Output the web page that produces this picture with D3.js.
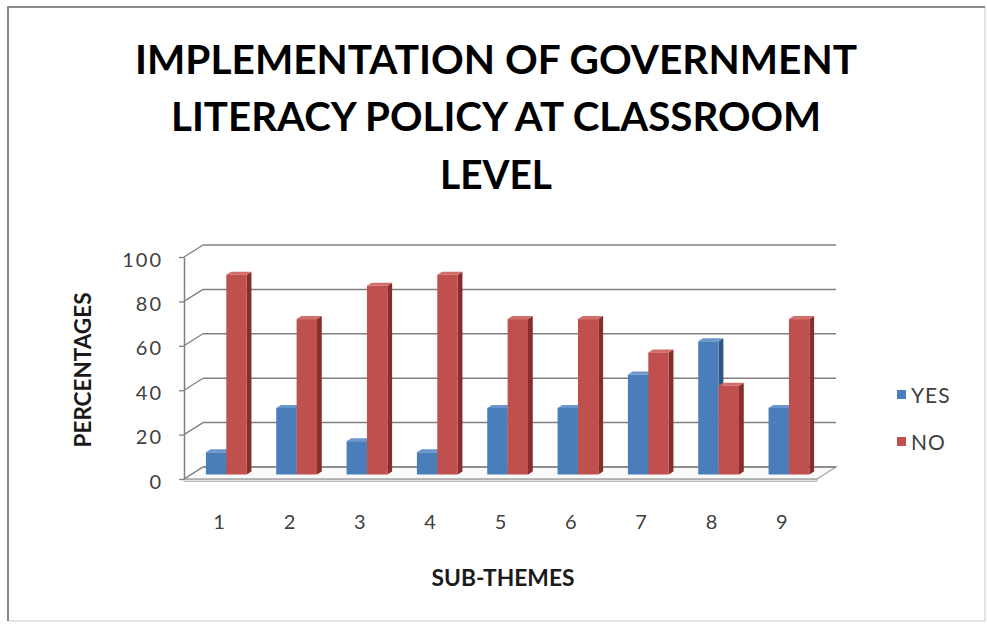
<!DOCTYPE html>
<html><head><meta charset="utf-8">
<script src="https://cdn.jsdelivr.net/npm/d3@7"></script>
<style>html,body{margin:0;padding:0;background:#fff;} svg{display:block;}</style>
</head><body><svg id="c" width="987" height="624"></svg>
<script>
const categories = ["1","2","3","4","5","6","7","8","9"];
const seriesNames = ["YES","NO"];
const yesValues = [10,30,15,10,30,30,45,60,30];
const noValues  = [90,70,85,90,70,70,55,40,70];
const yTicks = [0,20,40,60,80,100];
const titleLines = ["IMPLEMENTATION OF GOVERNMENT","LITERACY POLICY AT CLASSROOM","LEVEL"];
const xTitle = "SUB-THEMES";
const yTitle = "PERCENTAGES";

const colors = {
  YES: {front:"#4a7ebb", side:"#2f5683", top:"#6b97cf"},
  NO:  {front:"#c0504d", side:"#862e2c", top:"#d36d6a"}
};

const svg = d3.select("#c");

// frame
svg.append("rect").attr("x",8).attr("y",7).attr("width",977).attr("height",614)
  .attr("fill","#fff").attr("stroke","#c8c8c8").attr("stroke-width",1);
svg.append("path").attr("d","M8,621 L8,7 L985,7").attr("fill","none")
  .attr("stroke","#8a8a8a").attr("stroke-width",2);

const X0 = 184, X1 = 817, DX = 19, DY = -12;
const x = d3.scaleBand().domain(categories).range([X0, X1]).paddingInner(0.42).paddingOuter(0.21);
const xs = d3.scaleBand().domain(seriesNames).range([0, x.bandwidth()]);
const y = d3.scaleLinear().domain([0,100]).range([479,257]);
const P = (px, v, z) => [px + DX*z, y(v) + DY*z];

// floor
const floor = [P(X0,0,0),P(X1,0,0),P(X1,0,1),P(X0,0,1)];
svg.append("rect").attr("x",X0).attr("y",y(0)).attr("width",X1-X0).attr("height",2.5)
  .attr("fill","#e4e4e4").attr("stroke","#b0b0b0").attr("stroke-width",0.8);
svg.append("polygon").attr("points",floor.map(p=>p.join(",")).join(" "))
  .attr("fill","#fafafa").attr("stroke","#a6a6a6").attr("stroke-width",1.3);

// grid lines on back wall + diagonals on the left
const grid = svg.append("g");
yTicks.forEach(v=>{
  const a = P(X0,v,1), b = P(X1,v,1), f = P(X0,v,0);
  grid.append("line").attr("x1",a[0]).attr("y1",a[1]).attr("x2",b[0]).attr("y2",b[1])
    .attr("stroke","#808080").attr("stroke-width",1.5);
  grid.append("line").attr("x1",f[0]).attr("y1",f[1]).attr("x2",a[0]).attr("y2",a[1])
    .attr("stroke","#808080").attr("stroke-width",1.3);
});

// y axis
const yAxis = d3.axisLeft(y).tickValues(yTicks).tickSizeInner(5).tickSizeOuter(0).tickPadding(16);
const gy = svg.append("g").attr("transform",`translate(${X0},0)`).call(yAxis);
gy.select(".domain").attr("stroke","#808080").attr("stroke-width",1.5);
gy.selectAll(".tick line").attr("stroke","#808080").attr("stroke-width",1.3);
gy.selectAll(".tick text").attr("font-family","Lato, 'Open Sans', sans-serif").attr("font-size",20)
  .attr("fill","#404040").attr("dy","0.45em").attr("letter-spacing","2");

// x axis labels
const xAxis = d3.axisBottom(x).tickSize(0).tickPadding(36);
const gx = svg.append("g").attr("transform",`translate(0,${y(0)})`).call(xAxis);
gx.select(".domain").remove();
gx.selectAll(".tick text").attr("font-family","Lato, 'Open Sans', sans-serif").attr("font-size",20)
  .attr("fill","#404040");

// bars
const Z0 = 0.375, Z1 = 0.625;
const data = categories.map((c,i)=>({c, vals:[{s:"YES",v:yesValues[i]},{s:"NO",v:noValues[i]}]}));
const bars = svg.append("g");
data.forEach(d=>{
  d.vals.forEach(s=>{
    const xl = x(d.c) + xs(s.s), xr = xl + xs.bandwidth();
    const col = colors[s.s];
    const g = bars.append("g");
    const side = [P(xr,0,Z0),P(xr,s.v,Z0),P(xr,s.v,Z1),P(xr,0,Z1)];
    const top = [P(xl,s.v,Z0),P(xr,s.v,Z0),P(xr,s.v,Z1),P(xl,s.v,Z1)];
    const f0 = P(xl,s.v,Z0), f1 = P(xr,0,Z0);
    g.append("polygon").attr("points",side.map(p=>p.join(",")).join(" ")).attr("fill",col.side);
    g.append("polygon").attr("points",top.map(p=>p.join(",")).join(" ")).attr("fill",col.top);
    g.append("rect").attr("x",f0[0]).attr("y",f0[1]).attr("width",f1[0]-f0[0]).attr("height",f1[1]-f0[1])
      .attr("fill",col.front);
  });
});

// titles
const title = svg.append("g").attr("font-family","Lato, 'Open Sans', sans-serif").attr("font-weight","bold")
  .attr("fill","#000").attr("text-anchor","middle");
const tBase = [74,131,189], tLen = [722,650,112];
titleLines.forEach((t,i)=>{
  title.append("text").attr("x",496).attr("y",tBase[i]).attr("font-size",41)
    .attr("textLength",tLen[i]).attr("lengthAdjust","spacingAndGlyphs").text(t);
});

svg.append("text").attr("x",503).attr("y",586).attr("text-anchor","middle")
  .attr("font-family","Lato, 'Open Sans', sans-serif").attr("font-weight","bold").attr("font-size",23.5)
  .attr("fill","#1a1a1a").attr("textLength",143).attr("lengthAdjust","spacingAndGlyphs").text(xTitle);

svg.append("text").attr("transform","translate(91,370) rotate(-90)").attr("text-anchor","middle")
  .attr("font-family","Lato, 'Open Sans', sans-serif").attr("font-weight","bold").attr("font-size",23.5)
  .attr("fill","#1a1a1a").attr("textLength",155).attr("lengthAdjust","spacingAndGlyphs").text(yTitle);

// legend
const leg = svg.append("g").attr("font-family","Lato, 'Open Sans', sans-serif").attr("font-size",21).attr("fill","#404040");
seriesNames.forEach((s,i)=>{
  const ly = 395 + i*47;
  leg.append("rect").attr("x",897).attr("y",ly-5).attr("width",9).attr("height",9).attr("fill",colors[s].front);
  leg.append("text").attr("x",911).attr("y",ly).attr("dy","0.36em").attr("letter-spacing","1").text(s);
});
</script></body></html>
